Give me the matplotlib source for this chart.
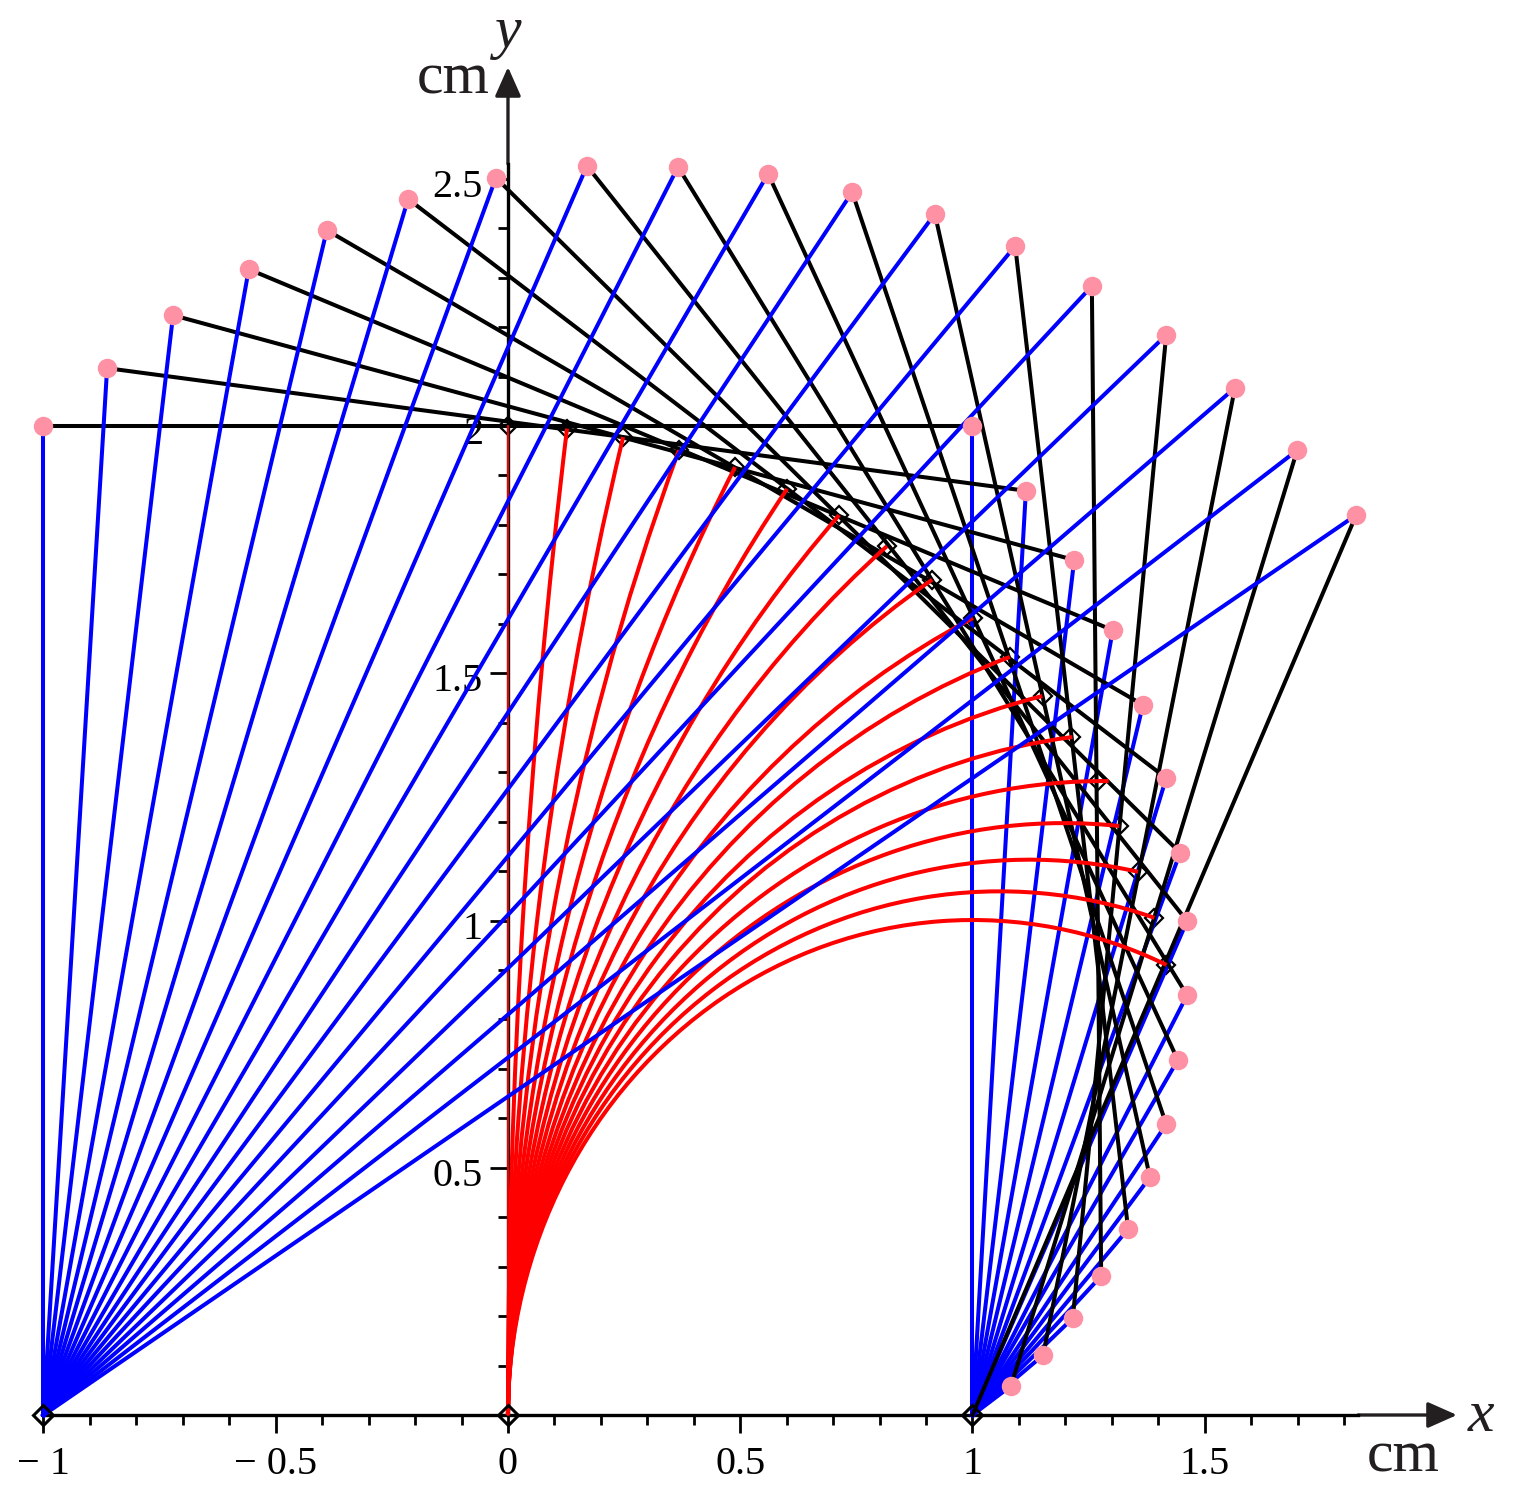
import matplotlib
matplotlib.use('Agg')
import matplotlib.pyplot as plt
from matplotlib.patches import PathPatch
from matplotlib.path import Path
from matplotlib.transforms import Affine2D, ScaledTranslation

plt.rcParams['font.family'] = ['Liberation Serif', 'DejaVu Serif']

# end points of the blue rays (cm)
upper_x = [-1.000, -0.863, -0.721, -0.558, -0.390, -0.215, -0.026, 0.170, 0.366,
           0.560, 0.741, 0.919, 1.092, 1.257, 1.417, 1.565, 1.699, 1.826]
upper_y = [2.000, 2.117, 2.224, 2.317, 2.396, 2.459, 2.502, 2.526, 2.524,
           2.510, 2.473, 2.429, 2.364, 2.283, 2.184, 2.077, 1.951, 1.820]
lower_x = [1.000, 1.115, 1.219, 1.302, 1.367, 1.417, 1.447, 1.462, 1.462,
           1.442, 1.417, 1.382, 1.335, 1.277, 1.216, 1.152, 1.083, 1.000]
lower_y = [2.000, 1.869, 1.729, 1.587, 1.436, 1.288, 1.137, 0.999, 0.849,
           0.718, 0.588, 0.481, 0.376, 0.281, 0.196, 0.121, 0.059, 0.000]

# diamonds on the end of the red arcs
mid_x = [0.000, 0.127, 0.248, 0.368, 0.489, 0.601, 0.713, 0.816, 0.913,
         1.001, 1.081, 1.152, 1.212, 1.270, 1.315, 1.356, 1.391, 1.417]
mid_y = [2.000, 1.994, 1.978, 1.951, 1.917, 1.873, 1.820, 1.757, 1.689,
         1.612, 1.533, 1.454, 1.371, 1.282, 1.191, 1.098, 1.005, 0.910]

# red arcs start at the origin, centre on the x axis
red_radius = [15.72, 8.012, 5.356, 4.002, 3.219, 2.679, 2.300, 2.019, 1.798,
              1.628, 1.494, 1.381, 1.282, 1.197, 1.123, 1.059, 1.001]
red_sweep = [7.29, 14.29, 21.36, 28.62, 35.58, 42.79, 49.81, 56.79, 63.69,
             70.34, 76.7, 83.1, 90.5, 95.7, 102.0, 108.3, 114.6]

anchor_x = [-1, 0, 1]
anchor_y = [0, 0, 0]

x_major = [-1, -0.5, 0, 0.5, 1, 1.5]
x_labels = ['\u2212 1', '\u2212 0.5', '0', '0.5', '1', '1.5']
x_minor = [-0.9, -0.8, -0.7, -0.6, -0.4, -0.3, -0.2, -0.1, 0.1, 0.2, 0.3, 0.4,
           0.6, 0.7, 0.8, 0.9, 1.1, 1.2, 1.3, 1.4, 1.6, 1.7, 1.8]
y_major = [0.5, 1, 1.5, 2, 2.5]
y_labels = ['0.5', '1', '1.5', '2', '2.5']
y_minor = [0.1, 0.2, 0.3, 0.4, 0.6, 0.7, 0.8, 0.9, 1.1, 1.2, 1.3, 1.4,
           1.6, 1.7, 1.8, 1.9, 2.1, 2.2, 2.3, 2.4]

PINK = '#ff91a4'
BLUE = '#0000ff'
RED = '#ff0000'
DARK = '#231f20'
LW = 2.9

fig = plt.figure(figsize=(15.18, 14.88), dpi=100)
ax = fig.add_axes([0, 0, 1, 1])
ax.set_xlim(-1.0936, 2.1744)
ax.set_ylim(-0.1476, 2.8615)

# axes through the origin
for side in ['top', 'right']:
    ax.spines[side].set_visible(False)
ax.spines['left'].set_position(('data', 0))
ax.spines['bottom'].set_position(('data', 0))
ax.spines['left'].set_bounds(0, 2.53)
ax.spines['bottom'].set_bounds(-1, 1.83)
for side in ['left', 'bottom']:
    ax.spines[side].set_linewidth(2.4)
    ax.spines[side].set_zorder(1)
ax.patch.set_visible(False)

ax.set_xticks(x_major)
ax.set_xticklabels(x_labels)
ax.set_xticks(x_minor, minor=True)
ax.set_yticks(y_major)
ax.set_yticklabels(y_labels)
ax.set_yticks(y_minor, minor=True)
ax.tick_params(which='major', length=13, width=2.0, labelsize=29, direction='out', zorder=1)
ax.tick_params(which='minor', length=7, width=2.0, direction='out', zorder=1)
ax.tick_params(axis='x', which='major', pad=9)
ax.tick_params(axis='y', which='major', pad=5)

# y labels sit a little under their ticks
shift = ScaledTranslation(0, -3 / 72, fig.dpi_scale_trans)
for lab in ax.get_yticklabels():
    lab.set_transform(lab.get_transform() + shift)

# diamonds stay under the lines
ax.plot(anchor_x, anchor_y, ls='none', marker='D', ms=10, mfc='none', mec='black', mew=2.2, zorder=2.5)
ax.plot(mid_x, mid_y, ls='none', marker='D', ms=9, mfc='none', mec='black', mew=1.6, zorder=1.5)

for k in range(len(upper_x)):
    ax.plot([-1, upper_x[k]], [0, upper_y[k]], color=BLUE, lw=LW, zorder=2)
    ax.plot([1, lower_x[k]], [0, lower_y[k]], color=BLUE, lw=LW, zorder=2)
    ax.plot([upper_x[k], lower_x[k]], [upper_y[k], lower_y[k]], color='black', lw=LW, zorder=2)
    if k == 0:
        # straight one sits on the y axis
        ax.plot([mid_x[0], mid_x[0]], [0, mid_y[0]], color=RED, lw=1.3, zorder=2)
    else:
        r = red_radius[k - 1]
        arc = Path.arc(180 - red_sweep[k - 1], 180)
        tr = Affine2D().scale(r).translate(r, 0) + ax.transData
        ax.add_patch(PathPatch(arc, transform=tr, fill=False, ec=RED, lw=LW, zorder=2))

ax.plot(upper_x, upper_y, ls='none', marker='o', ms=14, mfc=PINK, mec='none', zorder=3)
ax.plot(lower_x[:-1], lower_y[:-1], ls='none', marker='o', ms=14, mfc=PINK, mec='none', zorder=3)

arrow = dict(arrowstyle='-|>,head_length=0.72,head_width=0.32', mutation_scale=25,
             shrinkA=0, shrinkB=0, color=DARK, lw=2.4)
ax.annotate('', xy=(2.043, 0), xytext=(1.83, 0), arrowprops=arrow, zorder=1)
ax.annotate('', xy=(0, 2.726), xytext=(0, 2.53), arrowprops=arrow, zorder=1)

fig.text(417 / 1518, 1 - 93 / 1488, 'cm', fontsize=43, color=DARK, va='baseline')
fig.text(1367 / 1518, 1 - 1472 / 1488, 'cm', fontsize=43, color=DARK, va='baseline')
fig.text(495 / 1518, 1 - 47 / 1488, 'y', fontsize=43, style='italic', color=DARK, va='baseline')
fig.text(1468 / 1518, 1 - 1431 / 1488, 'x', fontsize=43, style='italic', color=DARK, va='baseline')

fig.savefig('out.png', dpi=100)
